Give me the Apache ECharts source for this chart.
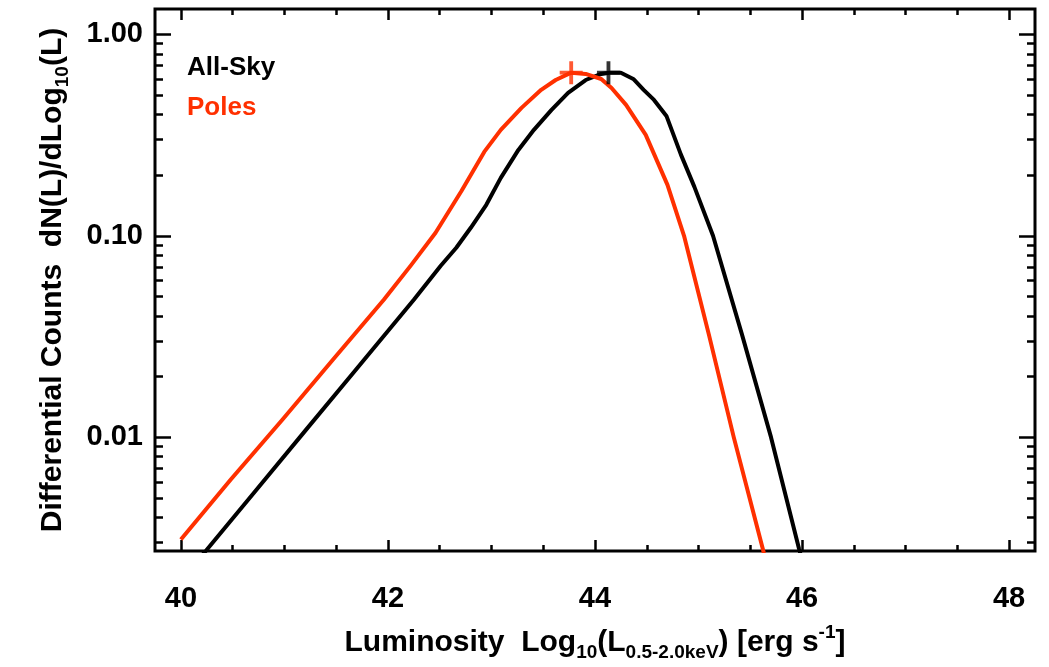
<!DOCTYPE html>
<html>
<head>
<meta charset="utf-8">
<script src="https://cdn.jsdelivr.net/npm/echarts@6/dist/echarts.min.js"></script>
<style>
  html, body { margin: 0; padding: 0; background: #ffffff; }
  #chart { width: 1049px; height: 667px; }
</style>
</head>
<body>
<div id="chart"></div>
<script>
// Differential source counts versus 0.5-2 keV luminosity (log10 erg/s)
const allSkyLum    = [40.0, 40.24, 40.73, 41.21, 41.69, 42.25, 42.51, 42.66, 42.80, 42.95, 43.09, 43.26, 43.41, 43.58, 43.74, 43.91, 44.06, 44.14, 44.25, 44.37, 44.47, 44.57, 44.69, 44.83, 44.96, 45.14, 45.42, 45.70, 45.97, 46.04];
const allSkyCounts = [0.00196, 0.00272, 0.00548, 0.0109, 0.0216, 0.0481, 0.0710, 0.0872, 0.1096, 0.1426, 0.194, 0.267, 0.336, 0.422, 0.513, 0.594, 0.637, 0.645, 0.645, 0.601, 0.531, 0.473, 0.394, 0.253, 0.175, 0.100, 0.0323, 0.0100, 0.0028, 0.00208];

const polesLum    = [40.0, 40.48, 40.98, 41.47, 41.96, 42.22, 42.46, 42.71, 42.93, 43.09, 43.29, 43.48, 43.62, 43.77, 43.91, 44.06, 44.16, 44.30, 44.49, 44.70, 44.86, 45.10, 45.34, 45.62, 45.75];
const polesCounts = [0.00310, 0.00615, 0.0122, 0.0243, 0.0481, 0.0711, 0.1035, 0.167, 0.261, 0.336, 0.432, 0.531, 0.594, 0.646, 0.637, 0.601, 0.542, 0.447, 0.317, 0.179, 0.100, 0.0323, 0.0100, 0.0028, 0.0015];

// Peak of each distribution, marked with a cross
const allSkyPeak = [44.13, 0.646];
const polesPeak  = [43.77, 0.646];

// Tick positions
const xMajorTicks = [40, 42, 44, 46, 48];
const xMinorTicks = [40.5, 41, 41.5, 42.5, 43, 43.5, 44.5, 45, 45.5, 46.5, 47, 47.5];
const yMajorTicks = [0.01, 0.1, 1];
const yMinorTicks = [0.003, 0.004, 0.005, 0.006, 0.007, 0.008, 0.009,
                     0.02, 0.03, 0.04, 0.05, 0.06, 0.07, 0.08, 0.09,
                     0.2, 0.3, 0.4, 0.5, 0.6, 0.7, 0.8, 0.9];

const X_MIN = 39.75, X_MAX = 48.25;
const Y_MIN = 0.00272, Y_MAX = 1.338;

const FONT = '"Liberation Sans", Arial, Helvetica, sans-serif';
const INK = '#000000';
const RED = '#ff3000';

const titleRich = {
  m:   { fontSize: 30, fontWeight: 'bold', fontFamily: FONT, color: INK, verticalAlign: 'middle' },
  sub: { fontSize: 19, fontWeight: 'bold', fontFamily: FONT, color: INK, verticalAlign: 'bottom', padding: [20, 0, 0, 0] },
  sup: { fontSize: 19, fontWeight: 'bold', fontFamily: FONT, color: INK, verticalAlign: 'top', padding: [0, 0, 20, 0] }
};

function tickAxis(kind, position, ticks, length, extra) {
  const base = {
    type: kind === 'x' ? 'value' : 'log',
    position: position,
    min: kind === 'x' ? X_MIN : Y_MIN,
    max: kind === 'x' ? X_MAX : Y_MAX,
    axisLine: { show: false },
    splitLine: { show: false },
    axisTick: {
      show: true, inside: true, length: length, customValues: ticks,
      lineStyle: { color: INK, width: 2.5 }
    },
    axisLabel: { show: false }
  };
  if (kind === 'y') base.logBase = 10;
  return Object.assign(base, extra || {});
}

const xAxes = [
  tickAxis('x', 'bottom', xMajorTicks, 11, {
    axisLabel: {
      show: true, customValues: xMajorTicks, margin: 33,
      fontSize: 29, fontWeight: 'bold', fontFamily: FONT, color: INK
    },
    name: '{m|Luminosity  Log}{sub|10}{m|(L}{sub|0.5-2.0keV}{m|) [erg s}{sup|-1}{m|]}',
    nameLocation: 'middle',
    nameGap: 72,
    nameTextStyle: { rich: titleRich }
  }),
  tickAxis('x', 'bottom', xMinorTicks, 6),
  tickAxis('x', 'top', xMajorTicks, 11),
  tickAxis('x', 'top', xMinorTicks, 6)
];

const yAxes = [
  tickAxis('y', 'left', yMajorTicks, 16, {
    axisLabel: {
      show: true, customValues: yMajorTicks, margin: 12,
      fontSize: 29, fontWeight: 'bold', fontFamily: FONT, color: INK,
      formatter: v => Number(v).toFixed(2)
    },
    name: '{m|Differential Counts  dN(L)/dLog}{sub|10}{m|(L)}',
    nameLocation: 'middle',
    nameRotate: 90,
    nameGap: 83,
    nameTextStyle: { rich: titleRich }
  }),
  tickAxis('y', 'left', yMinorTicks, 8),
  tickAxis('y', 'right', yMajorTicks, 16),
  tickAxis('y', 'right', yMinorTicks, 8)
];

const PLUS = 'path://M10,0H14V10H24V14H14V24H10V14H0V10H10Z';

const chart = echarts.init(document.getElementById('chart'), null, { renderer: 'canvas' });
chart.setOption({
  animation: false,
  backgroundColor: '#ffffff',
  grid: {
    left: 155, right: 14, top: 9, bottom: 116,
    show: true, borderColor: INK, borderWidth: 3, backgroundColor: 'transparent'
  },
  xAxis: xAxes,
  yAxis: yAxes,
  graphic: [
    { type: 'text', left: 187, top: 55, z: 10,
      style: { text: 'All-Sky', fill: INK, font: 'bold 26px ' + FONT } },
    { type: 'text', left: 187, top: 95, z: 10,
      style: { text: 'Poles', fill: RED, font: 'bold 26px ' + FONT } }
  ],
  series: [
    {
      name: 'All-Sky', type: 'line', xAxisIndex: 0, yAxisIndex: 0,
      data: allSkyLum.map((l, i) => [l, allSkyCounts[i]]),
      showSymbol: false, smooth: false,
      lineStyle: { color: INK, width: 4, join: 'round' }, itemStyle: { color: INK }, z: 3
    },
    {
      name: 'Poles', type: 'line', xAxisIndex: 0, yAxisIndex: 0,
      data: polesLum.map((l, i) => [l, polesCounts[i]]),
      showSymbol: false, smooth: false,
      lineStyle: { color: RED, width: 4, join: 'round' }, itemStyle: { color: RED }, z: 4
    },
    {
      name: 'All-Sky peak', type: 'scatter', xAxisIndex: 0, yAxisIndex: 0,
      data: [allSkyPeak], symbol: PLUS, symbolSize: 23,
      itemStyle: { color: INK }, z: 5
    },
    {
      name: 'Poles peak', type: 'scatter', xAxisIndex: 0, yAxisIndex: 0,
      data: [polesPeak], symbol: PLUS, symbolSize: 23,
      itemStyle: { color: RED }, z: 5
    }
  ]
});
</script>
</body>
</html>
